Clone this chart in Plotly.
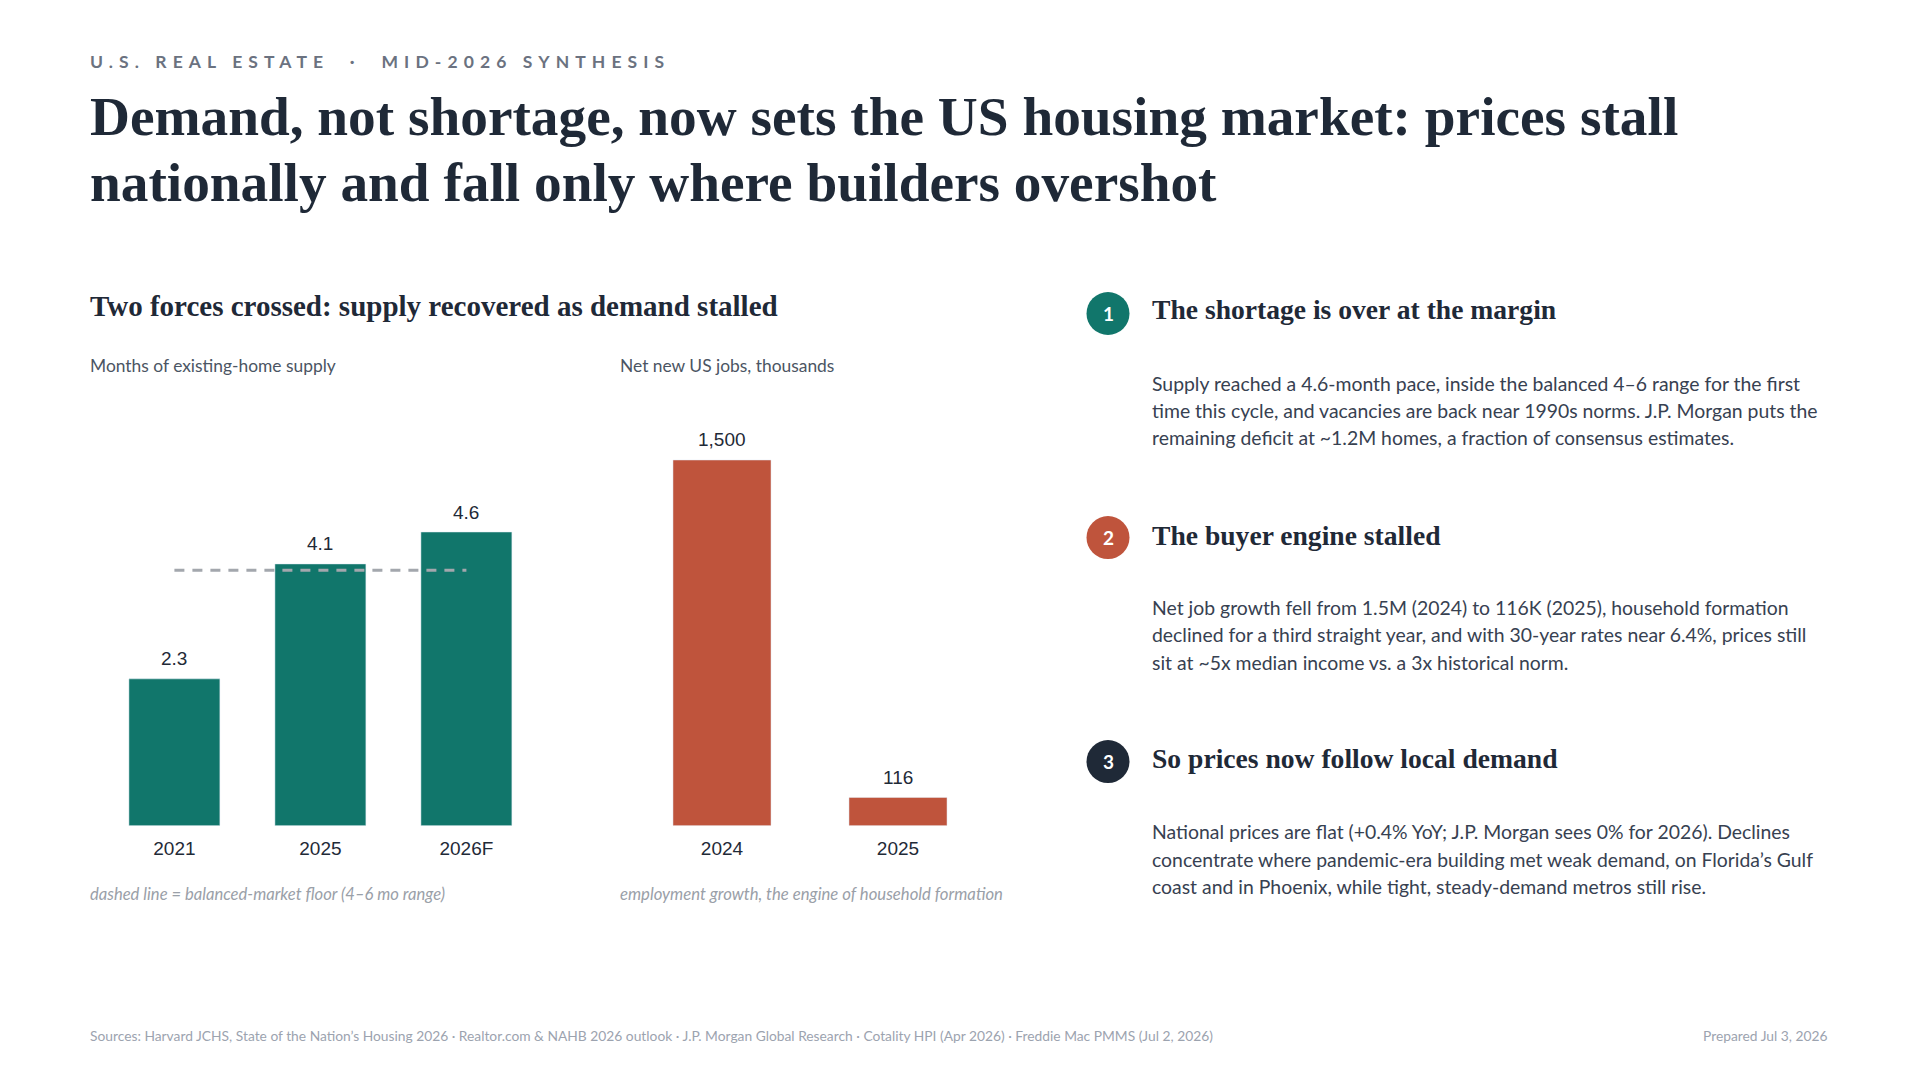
import plotly.graph_objects as go

# ---------------- data ----------------
supply_years = ["2021", "2025", "2026F"]
supply_values = [2.3, 4.1, 4.6]
balanced_floor = 4.0

jobs_years = ["2024", "2025"]
jobs_values = [1500, 116]

# ---------------- style ----------------
W, H = 1920, 1080
TEAL = "#11766B"
RUST = "#BF543C"
NAVY = "#1F2937"
INK = "#1F2A37"
SERIF = "Liberation Serif, DejaVu Serif, serif"
SANS = "Lato, Open Sans, sans-serif"
ARIAL = "Liberation Sans, Arial, sans-serif"


def X(px):
    return px / W


def Y(py):
    return 1 - py / H


fig = go.Figure()

fig.add_trace(go.Bar(x=supply_years, y=supply_values, marker_color=TEAL, width=0.623,
                     xaxis="x", yaxis="y", showlegend=False, hoverinfo="skip"))
fig.add_trace(go.Scatter(x=[supply_years[0], supply_years[-1]],
                         y=[balanced_floor, balanced_floor], mode="lines",
                         line=dict(color="#A3A7AD", width=3, dash="10px,8px"),
                         xaxis="x", yaxis="y", showlegend=False, hoverinfo="skip"))
fig.add_trace(go.Bar(x=jobs_years, y=jobs_values, marker_color=RUST, width=0.557,
                     xaxis="x2", yaxis="y2", showlegend=False, hoverinfo="skip"))

annotations = []
# value labels (category index positions, data-valued heights)
for i, v in enumerate(supply_values):
    annotations.append(dict(x=i, y=v, xref="x", yref="y", text=f"{v:.1f}",
                            showarrow=False, yanchor="middle", yshift=20,
                            font=dict(family=ARIAL, size=19, color=INK)))
for i, v in enumerate(jobs_values):
    annotations.append(dict(x=i, y=v, xref="x2", yref="y2", text=f"{v:,}",
                            showarrow=False, yanchor="middle", yshift=20,
                            font=dict(family=ARIAL, size=19, color=INK)))


def txt(x, y, text, size, color, family=SANS, xanchor="left", **kw):
    annotations.append(dict(x=X(x), y=Y(y), xref="paper", yref="paper", text=text,
                            showarrow=False, xanchor=xanchor, yanchor="middle",
                            align=xanchor if xanchor != "center" else "center",
                            font=dict(family=family, size=size, color=color), **kw))


# header
txt(88, 62, '<span style="letter-spacing:6.1px"><b>U.S. REAL ESTATE  ·  MID-2026 SYNTHESIS</b></span>',
    17.5, "#6B7280")
txt(88, 116.5, "<b>Demand, not shortage, now sets the US housing market: prices stall</b>", 55.3, NAVY, SERIF)
txt(88, 182.5, "<b>nationally and fall only where builders overshot</b>", 55.3, NAVY, SERIF)

# left section
txt(88, 306, "<b>Two forces crossed: supply recovered as demand stalled</b>", 29.0, NAVY, SERIF)
txt(88, 365, "Months of existing-home supply", 17.4, "#4B5563")
txt(618, 365, "Net new US jobs, thousands", 17.4, "#4B5563")
txt(88, 894, "<i>dashed line = balanced-market floor (4–6 mo range)</i>", 16.6, "#9AA0A8")
txt(618, 894, "<i>employment growth, the engine of household formation</i>", 16.7, "#9AA0A8")

# right column
points = [
    (TEAL, "1", "The shortage is over at the margin", 313.5, 310,
     ["Supply reached a 4.6-month pace, inside the balanced 4–6 range for the first",
      "time this cycle, and vacancies are back near 1990s norms. J.P. Morgan puts the",
      "remaining deficit at ~1.2M homes, a fraction of consensus estimates."],
     [383.3, 410.2, 437.1]),
    (RUST, "2", "The buyer engine stalled", 537.6, 535,
     ["Net job growth fell from 1.5M (2024) to 116K (2025), household formation",
      "declined for a third straight year, and with 30-year rates near 6.4%, prices still",
      "sit at ~5x median income vs. a 3x historical norm."],
     [607.4, 634.5, 662.0]),
    (NAVY, "3", "So prices now follow local demand", 761.6, 759,
     ["National prices are flat (+0.4% YoY; J.P. Morgan sees 0% for 2026). Declines",
      "concentrate where pandemic-era building met weak demand, on Florida’s Gulf",
      "coast and in Phoenix, while tight, steady-demand metros still rise."],
     [831.4, 859.3, 886.8]),
]
shapes = []
for col, num, head, cy, hy, lines, ly in points:
    r = 21.5
    shapes.append(dict(type="circle", xref="paper", yref="paper",
                       x0=X(1108 - r), x1=X(1108 + r), y0=Y(cy + r), y1=Y(cy - r),
                       fillcolor=col, line=dict(width=0), layer="above"))
    txt(1108, cy, f"<b>{num}</b>", 19, "white", SANS, xanchor="center")
    txt(1150, hy, f"<b>{head}</b>", 27.6, NAVY, SERIF)
    for t, yy in zip(lines, ly):
        txt(1150, yy, t, 19.4, "#374151")

# footer
txt(88, 1035, "Sources: Harvard JCHS, State of the Nation’s Housing 2026 · Realtor.com &amp; NAHB 2026 outlook · "
    "J.P. Morgan Global Research · Cotality HPI (Apr 2026) · Freddie Mac PMMS (Jul 2, 2026)",
    13.8, "#9CA3AF")
txt(1829, 1035, "Prepared Jul 3, 2026", 13.8, "#9CA3AF", xanchor="right")

axis_common = dict(showgrid=False, zeroline=False, showline=False, ticks="", automargin=False)
fig.update_layout(
    width=W, height=H, margin=dict(l=0, r=0, t=0, b=0, autoexpand=False),
    paper_bgcolor="white", plot_bgcolor="white",
    xaxis=dict(domain=[X(101.4), X(539.4)], type="category", range=[-0.5, 2.5],
               ticklabelstandoff=9,
               tickfont=dict(family=ARIAL, size=19, color=INK), **axis_common),
    yaxis=dict(domain=[Y(825.7), Y(440)], range=[0, 6.041], showticklabels=False, **axis_common),
    xaxis2=dict(domain=[X(634), X(986)], type="category", anchor="y2", range=[-0.5, 1.5],
                ticklabelstandoff=9,
                tickfont=dict(family=ARIAL, size=19, color=INK), **axis_common),
    yaxis2=dict(domain=[Y(825.7), Y(440)], range=[0, 1582], anchor="x2",
                showticklabels=False, **axis_common),
    annotations=annotations, shapes=shapes,
)

fig.write_html("out.html")
